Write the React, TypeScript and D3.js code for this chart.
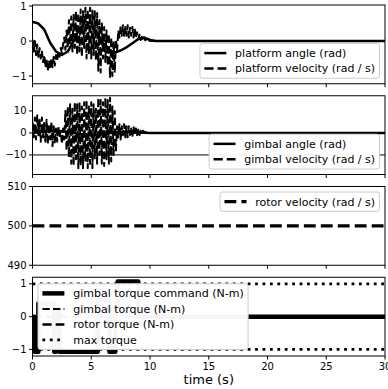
import React from 'react';
import * as d3 from 'd3';

const W = 388;
const H = 389;

// sampling step of the recorded (chattering) velocity traces, s
const dt = 0.1;
const endT = 30;

// platform
const platformAngleT = [0, 0.5, 1, 1.5, 2, 2.5, 3, 3.5, 4, 4.5, 5, 5.5, 6, 6.5, 7, 7.5, 8, 8.5, 9, 9.5, 10, 10.5, 30];
const platformAngle = [0.55, 0.5, 0.33, -0.05, -0.3, -0.4, -0.3, 0.0, 0.35, 0.55, 0.5, 0.22, -0.05, -0.25, -0.33, -0.27, -0.18, -0.06, 0.06, 0.1, 0.03, 0, 0];
const platformVel = [
  0.05, -0.3, 0.0, -0.4, -0.1, -0.45, -0.2, -0.5, -0.3, -0.6,
  -0.4, -0.75, -0.5, -0.85, -0.55, -0.8, -0.5, -0.75, -0.45, -0.7,
  -0.4, -0.55, -0.3, -0.45, -0.2, -0.35, -0.1, 0.1, -0.25, 0.3,
  -0.2, 0.6, -0.1, 0.7, -0.3, 0.75, -0.2, 0.85, -0.4, 0.8,
  -0.3, 0.9, -0.45, 0.85, -0.2, 0.95, -0.5, 0.9, -0.35, 0.95,
  -0.5, 0.9, -0.4, 0.85, -0.55, 0.8, -0.85, 0.6, -0.9, 0.5,
  -0.5, 0.4, -0.6, 0.3, -0.7, 0.2, -1.05, 0.1, -1.0, 0.0,
  -0.9, 0.05, -0.3, 0.3, 0.1, 0.42, 0.15, 0.45, 0.12, 0.4,
  0.15, 0.45, 0.1, 0.38, 0.15, 0.4, 0.1, 0.35, 0.08, 0.25,
  0.05, 0.18, 0.03, 0.12, 0.0, 0.1, 0.02, 0.06, 0.0, 0.03,
  0, 0.01, 0, 0, 0,
];

// gimbal
const gimbalAngleT = [0, 1, 2, 3, 4, 5, 6, 7, 8, 9, 10, 30];
const gimbalAngle = [0, 0.6, 0.9, 0.4, -0.5, -1, -0.6, 0.3, 0.5, 0.2, 0, 0];
const gimbalVel = [
  5, -2, 7, -3, 8, -1, 6, -4, 7, -2,
  5, -4, 6, -5, 4, -3, 5, -6, 3, -5,
  2, -4, 3, -2, 1, -5, 2, -3, 10, -8,
  12, -11, 13, -14, 11, -15, 14, -12, 13, -16,
  14, -15, 12, -16, 14, -13, 15, -16, 12, -14,
  14, -16, 13, -12, 11, -14, 16, -10, 15, -14,
  14, -15, 16, -12, 15, -14, 16, -13, 12, -10,
  10, -8, 3, -2, 4, -3, 3, -1, 4, -2,
  3, -2, 3, -1, 2, -2, 3, -1, 2, -1,
  1.5, -1, 1, -0.5, 1, 0, 0.5, 0, 0.3, 0,
  0, 0, 0, 0, 0,
];
const gimbalVelLimit = -10;

// rotor
const rotorT = [0, 30];
const rotorVel = [500, 500];

// torques (step after)
const cmdT = [0, 0.15, 0.5, 1.85, 2.0, 2.3, 5.55, 6.55, 7.05, 7.25, 9.0, 30];
const cmdV = [0, -1.07, 0.4, -1.07, 0.2, -1.07, 0.5, -1.07, 0.3, 1.07, 0, 0];
const rotorTorqueT = [0, 30];
const rotorTorque = [0, 0];
const maxTorque = 1;

const xTicks = [0, 5, 10, 15, 20, 25, 30];

const x = d3.scaleLinear().domain([0, 30]).range([32.5, 385]);
const y1 = d3.scaleLinear().domain([-1.22, 1.03]).range([83.75, 5]);
const y2 = d3.scaleLinear().domain([-18.9, 16.9]).range([174.5, 95.75]);
const y3 = d3.scaleLinear().domain([490, 510]).range([265.25, 186.5]);
const y4 = d3.scaleLinear().domain([-1.2, 1.2]).range([356, 277.25]);

const FONT = '"DejaVu Sans", sans-serif';

let ctx: CanvasRenderingContext2D | null = null;
function measure(s: string, size: number) {
  if (!ctx) ctx = document.createElement('canvas').getContext('2d');
  if (!ctx) return s.length * size * 0.6;
  ctx.font = `${size}px "DejaVu Sans"`;
  return ctx.measureText(s).width;
}

const fmt = (v: number) => String(v).replace('-', '\u2212');

const pts = (ts: number[], vs: number[]) => ts.map((t, i) => [t, vs[i]] as [number, number]);
const sampled = (vs: number[]) => [...vs.map((v, i) => [i * dt, v] as [number, number]), [endT, 0] as [number, number]];

type Style = { width: number; dash?: string };
const solid = (w: number): Style => ({ width: w });
const dashed = (w: number): Style => ({ width: w, dash: `${3.7 * w} ${1.6 * w}` });
const dotted = (w: number): Style => ({ width: w, dash: `${w} ${1.65 * w}` });

function Path({ data, y, st, step }: { data: [number, number][]; y: d3.ScaleLinear<number, number>; st: Style; step?: boolean }) {
  const line = d3
    .line<[number, number]>()
    .x((d) => x(d[0]))
    .y((d) => y(d[1]));
  if (step) line.curve(d3.curveStepAfter);
  return (
    <path
      d={line(data) ?? ''}
      fill="none"
      stroke="#000"
      strokeWidth={st.width}
      strokeDasharray={st.dash}
      strokeLinejoin="round"
      strokeLinecap={st.dash ? 'butt' : 'square'}
    />
  );
}

function Frame({ y, ticks, showX }: { y: d3.ScaleLinear<number, number>; ticks: number[]; showX?: boolean }) {
  const [x0, x1] = x.range();
  const [yb, yt] = y.range();
  return (
    <g fontFamily={FONT} fontSize={10} fill="#000">
      <rect x={x0} y={yt} width={x1 - x0} height={yb - yt} fill="none" stroke="#000" strokeWidth={1} />
      {xTicks.map((t) => (
        <line key={t} x1={x(t)} x2={x(t)} y1={yb} y2={yb + 3.5} stroke="#000" />
      ))}
      {showX &&
        xTicks.map((t) => (
          <text key={'l' + t} x={x(t)} y={yb + 14} textAnchor="middle">
            {t}
          </text>
        ))}
      {ticks.map((t) => (
        <g key={t}>
          <line x1={x0 - 3.5} x2={x0} y1={y(t)} y2={y(t)} stroke="#000" />
          <text x={x0 - 6} y={y(t)} dy="0.35em" textAnchor="end">
            {fmt(t)}
          </text>
        </g>
      ))}
    </g>
  );
}

type Entry = { label: string; st: Style };

function Legend({ entries, loc, y }: { entries: Entry[]; loc: string; y: d3.ScaleLinear<number, number> }) {
  const fs = 11;
  const pad = 4.4;
  const hl = 22;
  const htp = 8.8;
  const rowH = 10.5;
  const gap = 5;
  const tw = d3.max(entries, (e) => measure(e.label, fs)) ?? 0;
  const w = pad * 2 + hl + htp + tw;
  const h = pad * 2 + entries.length * rowH + (entries.length - 1) * gap;
  const [x0, x1] = x.range();
  const [yb, yt] = y.range();
  const bx = loc.includes('right') ? x1 - 5.5 - w : x0 + 5.5;
  const by = loc.startsWith('upper') ? yt + 5.5 : loc.startsWith('lower') ? yb - 5.5 - h : (yt + yb) / 2 - h / 2;
  return (
    <g>
      <rect x={bx} y={by} width={w} height={h} rx={2.5} fill="#fff" fillOpacity={0.96} stroke="#ccc" strokeWidth={1} />
      {entries.map((e, i) => {
        const cy = by + pad + rowH / 2 + i * (rowH + gap);
        return (
          <g key={e.label}>
            <line
              x1={bx + pad}
              x2={bx + pad + hl}
              y1={cy}
              y2={cy}
              stroke="#000"
              strokeWidth={e.st.width}
              strokeDasharray={e.st.dash}
            />
            <text x={bx + pad + hl + htp} y={cy} dy="0.35em" fontFamily={FONT} fontSize={fs}>
              {e.label}
            </text>
          </g>
        );
      })}
    </g>
  );
}

function Clip({ id, y }: { id: string; y: d3.ScaleLinear<number, number> }) {
  const [x0, x1] = x.range();
  const [yb, yt] = y.range();
  return (
    <clipPath id={id}>
      <rect x={x0} y={yt} width={x1 - x0} height={yb - yt} />
    </clipPath>
  );
}

export default function App() {
  const lw = 2.5;
  const vw = 2;
  return (
    <svg width={W} height={H} style={{ position: 'absolute', left: 0, top: 0, background: '#fff' }}>
      <defs>
        <Clip id="c1" y={y1} />
        <Clip id="c2" y={y2} />
        <Clip id="c3" y={y3} />
        <Clip id="c4" y={y4} />
      </defs>

      {/* platform */}
      <g clipPath="url(#c1)">
        <Path data={pts(platformAngleT, platformAngle)} y={y1} st={solid(lw)} />
        <Path data={sampled(platformVel)} y={y1} st={dashed(vw)} />
      </g>
      <Frame y={y1} ticks={[-1, 0, 1]} />
      <Legend
        y={y1}
        loc="lower right"
        entries={[
          { label: 'platform angle (rad)', st: solid(lw) },
          { label: 'platform velocity (rad / s)', st: dashed(lw) },
        ]}
      />

      {/* gimbal */}
      <g clipPath="url(#c2)">
        <line x1={x(0)} x2={x(30)} y1={y2(gimbalVelLimit)} y2={y2(gimbalVelLimit)} stroke="#000" strokeWidth={1} />
        <Path data={pts(gimbalAngleT, gimbalAngle)} y={y2} st={solid(lw)} />
        <Path data={sampled(gimbalVel)} y={y2} st={dashed(vw)} />
      </g>
      <Frame y={y2} ticks={[-10, 0, 10]} />
      <Legend
        y={y2}
        loc="lower right"
        entries={[
          { label: 'gimbal angle (rad)', st: solid(lw) },
          { label: 'gimbal velocity (rad / s)', st: dashed(lw) },
        ]}
      />

      {/* rotor */}
      <g clipPath="url(#c3)">
        <Path data={pts(rotorT, rotorVel)} y={y3} st={dashed(3.2)} />
      </g>
      <Frame y={y3} ticks={[490, 500, 510]} />
      <Legend y={y3} loc="upper right" entries={[{ label: 'rotor velocity (rad / s)', st: dashed(3.2) }]} />

      {/* torques */}
      <g clipPath="url(#c4)">
        <Path data={pts(cmdT, cmdV)} y={y4} st={solid(4.5)} step />
        <Path data={pts(cmdT, cmdV)} y={y4} st={dashed(2)} step />
        <Path data={pts(rotorTorqueT, rotorTorque)} y={y4} st={dashed(2.5)} />
        <Path data={pts([0, 30], [maxTorque, maxTorque])} y={y4} st={dotted(2.8)} />
        <Path data={pts([0, 30], [-maxTorque, -maxTorque])} y={y4} st={dotted(2.8)} />
      </g>
      <Frame y={y4} ticks={[-1, 0, 1]} showX />
      <Legend
        y={y4}
        loc="center left"
        entries={[
          { label: 'gimbal torque command (N-m)', st: solid(4.5) },
          { label: 'gimbal torque (N-m)', st: dashed(2) },
          { label: 'rotor torque (N-m)', st: dashed(2.5) },
          { label: 'max torque', st: dotted(2.8) },
        ]}
      />
      <text x={(x(0) + x(30)) / 2} y={384} textAnchor="middle" fontFamily={FONT} fontSize={13}>
        time (s)
      </text>
    </svg>
  );
}
